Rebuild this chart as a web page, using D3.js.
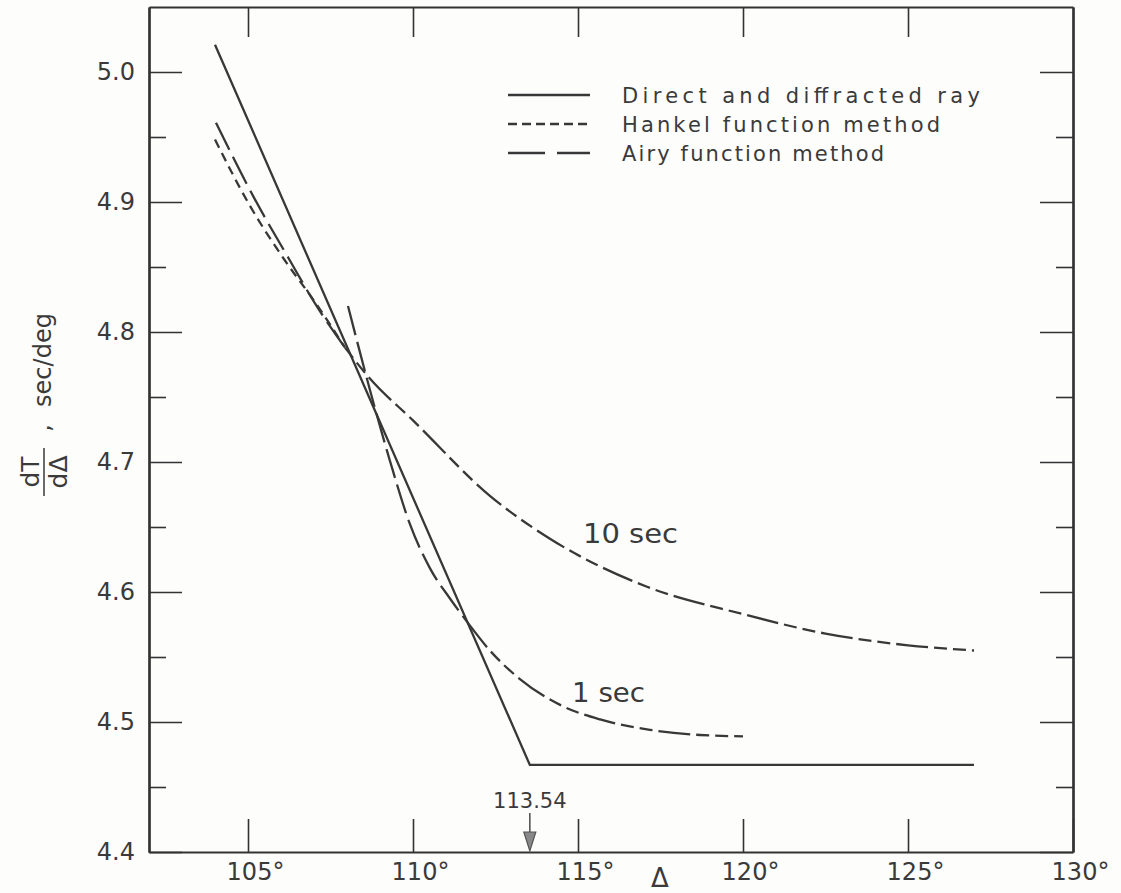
<!DOCTYPE html>
<html>
<head>
<meta charset="utf-8">
<script src="https://cdn.jsdelivr.net/npm/d3@7"></script>
<style>
  body { margin: 0; background: #fdfdfc; }
  svg text { font-family: "DejaVu Sans", sans-serif; fill: #3a3a3a; }
  .axis path, .axis line { stroke: #333; }
</style>
</head>
<body>
<div id="chart"></div>
<script>
// ---- data ----
const xTicks = [105, 110, 115, 120, 125, 130];
const yTicks = [4.4, 4.5, 4.6, 4.7, 4.8, 4.9, 5.0];
const yMinor = [4.45, 4.55, 4.65, 4.75, 4.85, 4.95];

// direct and diffracted ray (straight segments)
const direct = [[104, 5.021], [113.54, 4.467], [127, 4.467]];

// 10 sec period, the two methods before they merge
const hankel10 = [[104.0, 4.948], [105.06, 4.897], [106.12, 4.855], [107.03, 4.823], [107.94, 4.788]];
const airy10 = [[104.03, 4.961], [105.21, 4.902], [106.27, 4.855], [107.03, 4.822], [107.94, 4.788]];
// 10 sec, both methods
const both10 = [[107.94, 4.788], [108.7, 4.764], [110.0, 4.732], [112.33, 4.674], [114.15, 4.641],
  [117.09, 4.604], [120.0, 4.583], [122.5, 4.568], [125.0, 4.559], [127.0, 4.555]];

// 1 sec period
const airy1 = [[108.03, 4.820], [108.70, 4.755], [109.30, 4.701], [109.91, 4.652], [110.52, 4.618],
  [111.12, 4.595], [111.64, 4.577]];
const both1 = [[111.64, 4.577], [112.33, 4.555], [113.24, 4.533], [114.55, 4.512], [115.67, 4.502],
  [117.18, 4.494], [118.70, 4.490], [120.0, 4.489]];

const kinkX = 113.54;
const legendItems = ["Direct and diffracted ray", "Hankel function method", "Airy function method"];

// ---- layout ----
const W = 1121, H = 893;
const ink = "#383838";

const svg = d3.select("#chart").append("svg")
  .attr("width", W)
  .attr("height", H);

const x = d3.scaleLinear().domain([102, 130]).range([149, 1073]);
const y = d3.scaleLinear().domain([4.4, 5.05]).range([852, 7]);

// axes: inward ticks
const left = svg.append("g").attr("class", "axis").attr("transform", `translate(${x(102)},0)`)
  .call(d3.axisLeft(y).tickValues(yTicks).tickSizeInner(-33).tickSizeOuter(0).tickPadding(14)
    .tickFormat(d3.format(".1f")));
svg.append("g").attr("class", "axis").attr("transform", `translate(${x(102)},0)`)
  .call(d3.axisLeft(y).tickValues(yMinor).tickSizeInner(-17).tickSizeOuter(0).tickFormat(""));

svg.append("g").attr("class", "axis").attr("transform", `translate(${x(130)},0)`)
  .call(d3.axisRight(y).tickValues(yTicks).tickSizeInner(-33).tickSizeOuter(0).tickFormat(""));
svg.append("g").attr("class", "axis").attr("transform", `translate(${x(130)},0)`)
  .call(d3.axisRight(y).tickValues(yMinor).tickSizeInner(-17).tickSizeOuter(0).tickFormat(""));

const bottom = svg.append("g").attr("class", "axis").attr("transform", `translate(0,${y(4.4)})`)
  .call(d3.axisBottom(x).tickValues(xTicks).tickSizeInner(-33).tickSizeOuter(0).tickPadding(11)
    .tickFormat(d => d + "°"));

svg.append("g").attr("class", "axis").attr("transform", `translate(0,${y(5.05)})`)
  .call(d3.axisTop(x).tickValues(xTicks.slice(0, 5)).tickSizeInner(-30).tickSizeOuter(0).tickFormat(""));

svg.selectAll(".axis path").attr("stroke-width", 2.2);
svg.selectAll(".axis line").attr("stroke-width", 1.6);

left.selectAll("text").attr("font-size", 24).attr("fill", "#444");
bottom.selectAll("text").attr("font-size", 24).attr("fill", "#444").attr("dx", 7);

// ---- curves ----
const line = d3.line().x(d => x(d[0])).y(d => y(d[1]));
const smooth = d3.line().x(d => x(d[0])).y(d => y(d[1])).curve(d3.curveMonotoneX);

const series = [
  {data: direct, gen: line, dash: null},
  {data: hankel10, gen: smooth, dash: "9,6"},
  {data: airy10, gen: smooth, dash: "30,8"},
  {data: both10, gen: smooth, dash: "13,6,13,6,32,6"},
  {data: airy1, gen: smooth, dash: "30,7"},
  {data: both1, gen: smooth, dash: "32,6,13,6,13,6"}
];

svg.append("g").selectAll("path")
  .data(series)
  .join("path")
    .attr("d", d => d.gen(d.data))
    .attr("fill", "none")
    .attr("stroke", ink)
    .attr("stroke-width", 2.3)
    .attr("stroke-dasharray", d => d.dash);

// curve labels
svg.append("text").attr("x", 583).attr("y", 543).attr("font-size", 27)
  .attr("textLength", 95).attr("lengthAdjust", "spacingAndGlyphs").text("10 sec");
svg.append("text").attr("x", 572).attr("y", 702).attr("font-size", 27)
  .attr("textLength", 73).attr("lengthAdjust", "spacingAndGlyphs").text("1 sec");

// arrow at the kink
const ax = x(kinkX);
svg.append("line").attr("x1", ax).attr("x2", ax).attr("y1", 813).attr("y2", 836)
  .attr("stroke", "#555").attr("stroke-width", 1.6);
svg.append("path")
  .attr("d", `M${ax - 6},832 L${ax + 6},832 L${ax},851 Z`)
  .attr("fill", "#888").attr("stroke", "#555").attr("stroke-width", 1.2);
svg.append("text").attr("x", ax).attr("y", 808).attr("text-anchor", "middle")
  .attr("font-size", 21).attr("fill", "#444").text(kinkX.toFixed(2));

// axis title Δ
svg.append("text").attr("x", 660).attr("y", 887).attr("text-anchor", "middle")
  .attr("font-size", 26).attr("fill", "#444").text("Δ");

// y title: dT/dΔ , sec/deg (rotated)
const yt = svg.append("g");
const fy = 472;
yt.append("text").attr("transform", `translate(39,${fy}) rotate(-90)`).attr("text-anchor", "middle")
  .attr("font-size", 25).text("dT");
yt.append("line").attr("x1", 44).attr("x2", 44).attr("y1", fy - 24).attr("y2", fy + 24)
  .attr("stroke", "#444").attr("stroke-width", 1.6);
yt.append("text").attr("transform", `translate(67,${fy}) rotate(-90)`).attr("text-anchor", "middle")
  .attr("font-size", 25).text("dΔ");
yt.append("text").attr("transform", `translate(50,428) rotate(-90)`).attr("text-anchor", "middle")
  .attr("font-size", 24).text(",");
yt.append("text").attr("transform", `translate(51,407) rotate(-90)`).attr("text-anchor", "start")
  .attr("font-size", 24).attr("textLength", 94).attr("lengthAdjust", "spacingAndGlyphs").text("sec/deg");

// ---- legend ----
const legY = [95, 124, 153];
const legDash = [null, "9,5", "37,12"];
const legLen = [358, 318, 262];
const leg = svg.append("g");
leg.selectAll("line")
  .data(legendItems)
  .join("line")
    .attr("x1", 508).attr("x2", 590)
    .attr("y1", (d, i) => legY[i]).attr("y2", (d, i) => legY[i])
    .attr("stroke", ink).attr("stroke-width", 2.3)
    .attr("stroke-dasharray", (d, i) => legDash[i]);
leg.selectAll("text")
  .data(legendItems)
  .join("text")
    .attr("x", 622)
    .attr("y", (d, i) => legY[i] + 8)
    .attr("font-size", 21)
    .attr("textLength", (d, i) => legLen[i])
    .attr("lengthAdjust", "spacing")
    .text(d => d);
</script>
</body>
</html>
